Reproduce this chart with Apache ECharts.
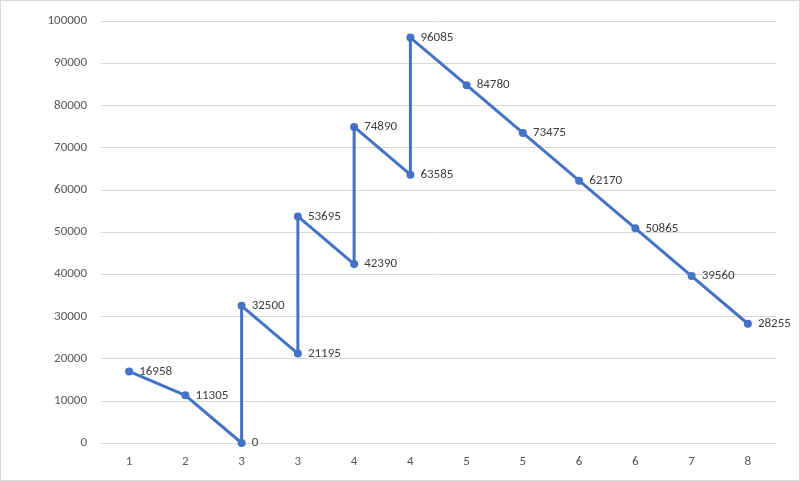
<!DOCTYPE html>
<html><head><meta charset="utf-8">
<script src="https://cdn.jsdelivr.net/npm/echarts@6/dist/echarts.min.js"></script>
<style>html,body{margin:0;padding:0;background:#fff}#c{width:800px;height:481px;box-sizing:border-box;border:1px solid #d9d9d9}</style>
</head><body><div id="c"></div>
<script>
const categories=['1','2','3','3','4','4','5','5','6','6','7','8'];
const xIndex=[0,1,2,2,3,3,4,4,5,5,6,7,8,9,10,11];
const values=[16958,11305,0,32500,21195,53695,42390,74890,63585,96085,84780,73475,62170,50865,39560,28255];
const chart=echarts.init(document.getElementById('c'));
const F='Calibri, Carlito, "Open Sans", sans-serif';
chart.setOption({
  animation:false,
  grid:{left:100,right:23,top:20,bottom:37},
  xAxis:{type:'category',data:categories,boundaryGap:true,
    axisLine:{lineStyle:{color:'#d9d9d9'}},axisTick:{show:false},
    axisLabel:{color:'#595959',fontSize:13,fontFamily:F,margin:12}},
  yAxis:{type:'value',min:0,max:100000,interval:10000,
    axisLine:{show:false},axisTick:{show:false},
    splitLine:{lineStyle:{color:'#d9d9d9'}},
    axisLabel:{color:'#595959',fontSize:13,fontFamily:F,margin:14,formatter:v=>String(v)}},
  series:[{type:'line',data:xIndex.map((x,i)=>[x,values[i]]),
    lineStyle:{color:'#4472C4',width:3},itemStyle:{color:'#4472C4'},
    symbol:'circle',symbolSize:8,
    label:{show:true,position:'right',distance:6,color:'#404040',fontSize:13,fontFamily:F,formatter:p=>String(p.value[1])}}]
});
</script></body></html>
